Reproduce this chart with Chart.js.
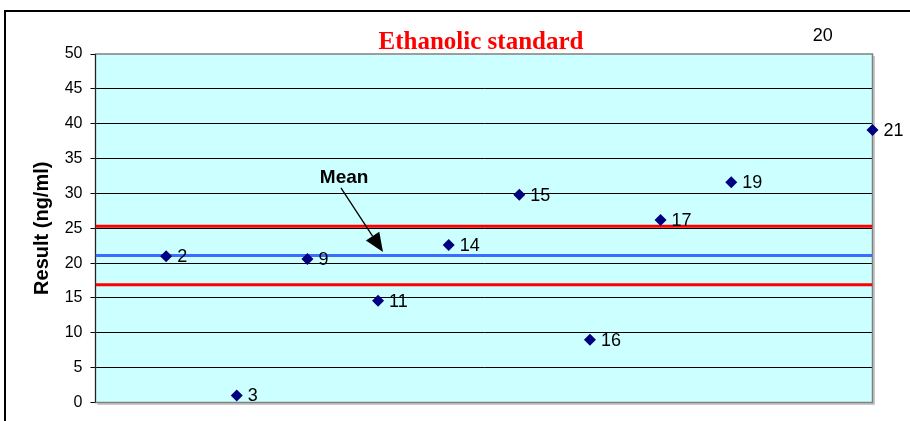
<!DOCTYPE html>
<html>
<head>
<meta charset="utf-8">
<script src="https://cdn.jsdelivr.net/npm/chart.js@4/dist/chart.umd.min.js"></script>
<style>
  html, body { margin: 0; padding: 0; background: #ffffff; }
  #wrap { width: 910px; height: 421px; }
</style>
</head>
<body>
<div id="wrap"><canvas id="chart" width="910" height="421"></canvas></div>
<script>
// laboratory ids and their results (ng/ml); lab 20 lies above the scale
const labIds = [2, 3, 9, 11, 14, 15, 16, 17, 19, 20, 21];
const labPos = [1, 2, 3, 4, 5, 6, 7, 8, 9, 10, 11];
const results = [21.0, 1.0, 20.6, 14.6, 22.6, 29.8, 9.0, 26.2, 31.6, 52.7, 39.1];
// mean and limits
const meanValue = 21.1;
const upperLimit = 25.3;
const lowerLimit = 16.9;
const yTicks = [0, 5, 10, 15, 20, 25, 30, 35, 40, 45, 50];
// "Mean" note: text position, arrow start, arrow tip (in data units)
const meanNote = [3.52, 32.2];
const arrowFrom = [3.475, 30.8];
const arrowTo = [4.07, 21.6];

const points = labPos.map((x, i) => ({ x: x, y: results[i] }));
const hLine = (v) => [{ x: 0, y: v }, { x: 11, y: v }];

// plot background, frame and labels
const decor = {
  id: "decor",
  beforeDraw(chart) {
    const { ctx, chartArea: a } = chart;
    ctx.save();
    ctx.fillStyle = "#ccffff";
    ctx.fillRect(a.left, a.top, a.right - a.left, a.bottom - a.top);
    ctx.restore();
  },
  beforeDatasetsDraw(chart) {
    const { ctx, chartArea: a } = chart;
    ctx.save();
    // shadow on right/bottom
    ctx.strokeStyle = "#b8b8b8";
    ctx.lineWidth = 1.5;
    ctx.beginPath();
    ctx.moveTo(a.right + 1.5, a.top + 2);
    ctx.lineTo(a.right + 1.5, a.bottom + 1.5);
    ctx.lineTo(a.left + 2, a.bottom + 1.5);
    ctx.stroke();
    ctx.strokeStyle = "#808080";
    ctx.lineWidth = 1.5;
    ctx.strokeRect(a.left, a.top, a.right - a.left, a.bottom - a.top);
    ctx.strokeStyle = "#222222";
    ctx.lineWidth = 1;
    ctx.beginPath();
    ctx.moveTo(a.left, a.top);
    ctx.lineTo(a.left, a.bottom);
    ctx.stroke();
    ctx.restore();
  },
  afterDraw(chart) {
    const { ctx, scales } = chart;
    const x = scales.x, y = scales.y;
    ctx.save();
    // outer frame
    ctx.strokeStyle = "#000000";
    ctx.lineWidth = 2;
    ctx.beginPath();
    ctx.moveTo(910, 11);
    ctx.lineTo(5, 11);
    ctx.lineTo(5, 421);
    ctx.stroke();

    // title
    ctx.fillStyle = "#ff0000";
    ctx.font = "bold 25px 'Liberation Serif', 'Times New Roman', serif";
    ctx.textAlign = "center";
    ctx.textBaseline = "middle";
    ctx.fillText("Ethanolic standard", 481, 43);

    // point labels
    ctx.fillStyle = "#000000";
    ctx.font = "18px 'Liberation Sans', Arial, sans-serif";
    ctx.textAlign = "left";
    const meta = chart.getDatasetMeta(0);
    meta.data.forEach((pt, i) => {
      ctx.fillText(String(labIds[i]), pt.x + 11, pt.y + 1);
    });

    // mean note with arrow
    ctx.font = "bold 19px 'Liberation Sans', Arial, sans-serif";
    ctx.textAlign = "center";
    ctx.fillText("Mean", x.getPixelForValue(meanNote[0]), y.getPixelForValue(meanNote[1]));
    const x0 = x.getPixelForValue(arrowFrom[0]), y0 = y.getPixelForValue(arrowFrom[1]);
    const x1 = x.getPixelForValue(arrowTo[0]), y1 = y.getPixelForValue(arrowTo[1]);
    const ang = Math.atan2(y1 - y0, x1 - x0);
    const headLen = 19, headW = 8;
    const bx = x1 - headLen * Math.cos(ang), by = y1 - headLen * Math.sin(ang);
    ctx.strokeStyle = "#000000";
    ctx.lineWidth = 1.3;
    ctx.beginPath();
    ctx.moveTo(x0, y0);
    ctx.lineTo(bx, by);
    ctx.stroke();
    ctx.beginPath();
    ctx.moveTo(x1, y1);
    ctx.lineTo(bx + headW * Math.sin(ang), by - headW * Math.cos(ang));
    ctx.lineTo(bx - headW * Math.sin(ang), by + headW * Math.cos(ang));
    ctx.closePath();
    ctx.fill();
    ctx.restore();
  }
};

new Chart(document.getElementById("chart"), {
  type: "scatter",
  plugins: [decor],
  data: {
    datasets: [
      {
        data: points,
        pointStyle: "rectRot",
        pointRadius: 6,
        pointHoverRadius: 6,
        backgroundColor: "#000080",
        borderColor: "#000080",
        borderWidth: 0,
        clip: { left: 10, right: 10, top: 0, bottom: 10 },
        order: 0
      },
      {
        type: "line",
        data: hLine(upperLimit),
        borderColor: "#ff0000",
        borderWidth: 3,
        pointRadius: 0,
        order: 1
      },
      {
        type: "line",
        data: hLine(lowerLimit),
        borderColor: "#ff0000",
        borderWidth: 3,
        pointRadius: 0,
        order: 1
      },
      {
        type: "line",
        data: hLine(meanValue),
        borderColor: "#3d6bff",
        borderWidth: 3,
        pointRadius: 0,
        order: 1
      }
    ]
  },
  options: {
    responsive: false,
    animation: false,
    layout: { padding: { left: 0, top: 54, right: 37.5, bottom: 18.5 } },
    plugins: {
      legend: { display: false },
      tooltip: { enabled: false },
      title: { display: false }
    },
    scales: {
      x: {
        type: "linear",
        display: false,
        min: 0,
        max: 11
      },
      y: {
        min: 0,
        max: 50,
        afterFit(scale) { scale.width = 95.5; },
        afterBuildTicks(scale) { scale.ticks = yTicks.map(v => ({ value: v })); },
        border: { display: true, color: "#222222" },
        grid: {
          color: (c) => (c.tick && (c.tick.value === 0 || c.tick.value === 50)) ? "rgba(0,0,0,0)" : "#000000",
          tickColor: "#000000",
          tickLength: 5,
          lineWidth: 1
        },
        ticks: {
          color: "#000000",
          padding: 8,
          font: { family: "'Liberation Sans', Arial, sans-serif", size: 16 }
        },
        title: {
          display: true,
          text: "Result (ng/ml)",
          color: "#000000",
          padding: { top: 30, bottom: 0 },
          font: { family: "'Liberation Sans', Arial, sans-serif", size: 20, weight: "bold" }
        }
      }
    }
  }
});
</script>
</body>
</html>
